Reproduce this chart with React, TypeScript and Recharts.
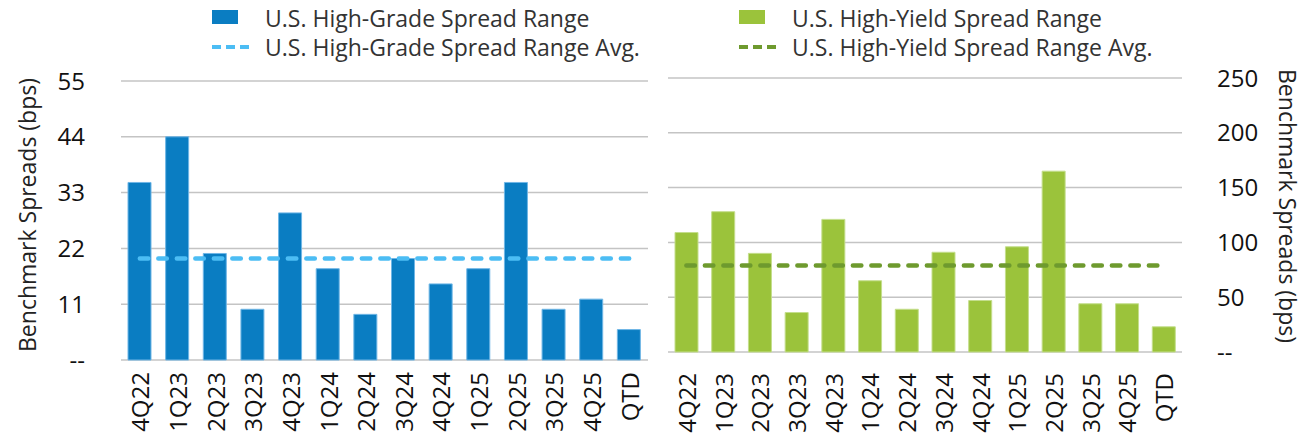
import React from "react";
import { ComposedChart, Bar, XAxis, YAxis, CartesianGrid, ReferenceLine } from "recharts";

const quarters = ["4Q22", "1Q23", "2Q23", "3Q23", "4Q23", "1Q24", "2Q24", "3Q24", "4Q24", "1Q25", "2Q25", "3Q25", "4Q25", "QTD"];
const highGrade = [35, 44, 21, 10, 29, 18, 9, 20, 15, 18, 35, 10, 12, 6];
const highYield = [109, 128, 90, 36, 121, 65, 39, 91, 47, 96, 165, 44, 44, 23];
const highGradeAvg = 20;
const highYieldAvg = 79;
const hgTicks = [0, 11, 22, 33, 44, 55];
const hyTicks = [0, 50, 100, 150, 200, 250];

const hgData = quarters.map((q, i) => ({ q, value: highGrade[i] }));
const hyData = quarters.map((q, i) => ({ q, value: highYield[i] }));

const FONT = "'Open Sans', sans-serif";
const BLUE = "#0a7dc2";
const LIGHT_BLUE = "#4cbdf4";
const GREEN = "#9bc33b";
const OLIVE = "#6e9a2e";
const GRID = "#c4c4c4";

const fmt = (v: number) => (v === 0 ? "--" : String(v));

const QuarterTick = ({ x, y, payload, offset }: any) => {
  const ty = y + offset;
  return (
    <text x={x} y={ty} transform={`rotate(-90 ${x} ${ty})`} textAnchor="end" dominantBaseline="central" fontSize={24} fontFamily={FONT} fill="#111">
      {payload.value}
    </text>
  );
};

function LegendRows({ left, color, dashColor, names }: { left: number; color: string; dashColor: string; names: string[] }) {
  const textStyle: React.CSSProperties = { position: "absolute", left: left + 53, fontSize: 23, lineHeight: "23px", fontFamily: FONT, color: "#333", whiteSpace: "nowrap" };
  return (
    <>
      <div style={{ position: "absolute", left, top: 10, width: 26, height: 14, background: color }} />
      <div style={{ ...textStyle, top: 7 }}>{names[0]}</div>
      <svg style={{ position: "absolute", left, top: 44 }} width={38} height={6}>
        <line x1={0} y1={3} x2={38} y2={3} stroke={dashColor} strokeWidth={4} strokeDasharray="9 5" />
      </svg>
      <div style={{ ...textStyle, top: 36 }}>{names[1]}</div>
    </>
  );
}

export default function App() {
  return (
    <div style={{ position: "relative", width: 1305, height: 444, background: "#fff" }}>
      <style>{"body{margin:0}"}</style>
      <div style={{ position: "absolute", left: 0, top: 0 }}>
        <ComposedChart width={660} height={444} data={hgData} margin={{ top: 81, right: 12, bottom: 0, left: 0 }}>
          <CartesianGrid vertical={false} stroke={GRID} strokeWidth={1.5} />
          <XAxis dataKey="q" height={84} axisLine={false} tickLine={false} interval={0} tick={<QuarterTick offset={4} />} />
          <YAxis
            width={121}
            domain={[0, 55]}
            ticks={hgTicks}
            tickFormatter={fmt}
            axisLine={false}
            tickLine={false}
            tickMargin={30}
            tick={{ fontSize: 24, fontFamily: FONT, fill: "#111" }}
            label={{
              content: () => (
                <text x={27} y={215} transform="rotate(-90 27 215)" textAnchor="middle" dominantBaseline="central" fontSize={23} fontFamily={FONT} fill="#222">
                  Benchmark Spreads (bps)
                </text>
              ),
            }}
          />
          <Bar dataKey="value" fill={BLUE} stroke="#6fb6e6" strokeWidth={1} barSize={23} isAnimationActive={false} />
          <ReferenceLine
            segment={[{ x: "4Q22", y: highGradeAvg }, { x: "QTD", y: highGradeAvg }]}
            stroke={LIGHT_BLUE}
            strokeWidth={4.5}
            strokeDasharray="8.5 10"
            strokeLinecap="round"
          />
        </ComposedChart>
      </div>
      <div style={{ position: "absolute", left: 660, top: 0 }}>
        <ComposedChart width={645} height={444} data={hyData} margin={{ top: 78, right: 0, bottom: 0, left: 8 }}>
          <CartesianGrid vertical={false} stroke={GRID} strokeWidth={1.5} />
          <XAxis dataKey="q" height={92} axisLine={false} tickLine={false} interval={0} tick={<QuarterTick offset={13} />} />
          <YAxis
            orientation="right"
            width={123}
            domain={[0, 250]}
            ticks={hyTicks}
            tickFormatter={fmt}
            axisLine={false}
            tickLine={false}
            tickMargin={29}
            tick={{ fontSize: 24, fontFamily: FONT, fill: "#111", textAnchor: "start" }}
            label={{
              content: () => (
                <text x={628} y={206} transform="rotate(90 628 206)" textAnchor="middle" dominantBaseline="central" fontSize={23} fontFamily={FONT} fill="#222">
                  Benchmark Spreads (bps)
                </text>
              ),
            }}
          />
          <Bar dataKey="value" fill={GREEN} stroke="#c4de8c" strokeWidth={1} barSize={23} isAnimationActive={false} />
          <ReferenceLine
            segment={[{ x: "4Q22", y: highYieldAvg }, { x: "QTD", y: highYieldAvg }]}
            stroke={OLIVE}
            strokeWidth={4.5}
            strokeDasharray="8.5 10"
            strokeLinecap="round"
          />
        </ComposedChart>
      </div>
      <LegendRows left={212} color={BLUE} dashColor={LIGHT_BLUE} names={["U.S. High-Grade Spread Range", "U.S. High-Grade Spread Range Avg."]} />
      <LegendRows left={739} color={GREEN} dashColor={OLIVE} names={["U.S. High-Yield Spread Range", "U.S. High-Yield Spread Range Avg."]} />
    </div>
  );
}
